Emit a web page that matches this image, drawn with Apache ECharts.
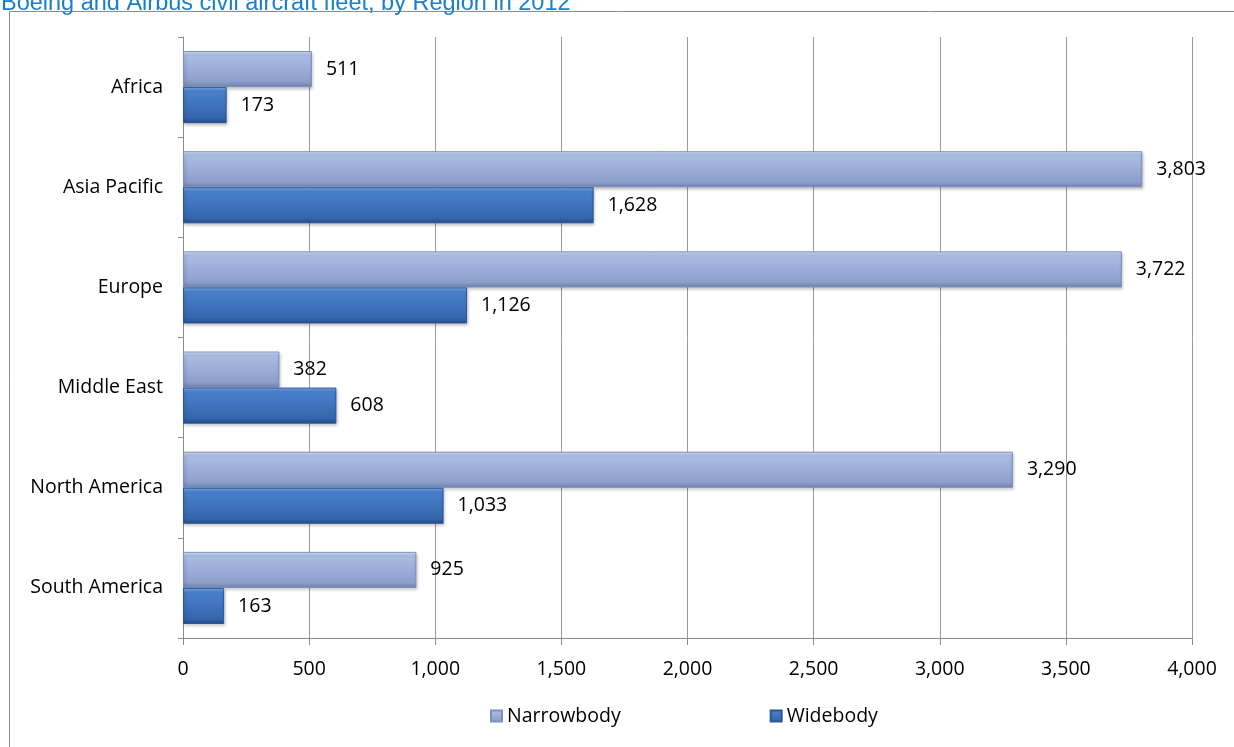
<!DOCTYPE html>
<html>
<head>
<meta charset="utf-8">
<script src="https://cdn.jsdelivr.net/npm/echarts@6/dist/echarts.min.js"></script>
<style>
html,body{margin:0;padding:0;background:#fff;}
#main{width:1234px;height:747px;}
</style>
</head>
<body>
<div id="main"></div>
<script>
var regions = ['Africa', 'Asia Pacific', 'Europe', 'Middle East', 'North America', 'South America'];
var narrowbody = [511, 3803, 3722, 382, 3290, 925];
var widebody = [173, 1628, 1126, 608, 1033, 163];
var seriesNames = ['Narrowbody', 'Widebody'];

var myChart = echarts.init(document.getElementById('main'));
var font = '"Open Sans", sans-serif';

// vertical bevel-like gradient
function grad(top, upper, lower, bottom){
	return new echarts.graphic.LinearGradient(0, 0, 0, 1, [
		{offset: 0, color: top},
		{offset: 0.12, color: upper},
		{offset: 0.85, color: lower},
		{offset: 1, color: bottom}
	]);
}

var option = {
	backgroundColor: '#fff',
	animation: false,
	title: {
		text: 'Boeing and Airbus civil aircraft fleet, by Region in 2012',
		left: -4,
		top: -13,
		textStyle: {color: '#1a7fc9', fontSize: 23.5, fontWeight: 'normal', fontFamily: 'Liberation Sans, Arial, sans-serif'}
	},
	graphic: [{
		type: 'rect',
		shape: {x: 9.5, y: 11.5, width: 1240, height: 760},
		style: {fill: 'none', stroke: '#8c8c8c', lineWidth: 1},
		silent: true
	}],
	legend: {
		data: seriesNames,
		bottom: 16,
		left: 485,
		itemGap: 149,
		itemWidth: 11,
		itemHeight: 11,
		icon: 'rect',
		textStyle: {fontSize: 19.5, color: '#000', fontFamily: font}
	},
	grid: {left: 183, right: 42, top: 37, bottom: 109},
	xAxis: {
		type: 'value',
		min: 0,
		max: 4000,
		interval: 500,
		axisLine: {show: true, lineStyle: {color: '#8c8c8c'}},
		axisTick: {show: true, length: 7, lineStyle: {color: '#8c8c8c'}},
		splitLine: {show: true, lineStyle: {color: '#9a9a9a'}},
		axisLabel: {
			fontSize: 19.5, color: '#000', fontFamily: font, margin: 21,
			formatter: function(v){ return v.toLocaleString('en-US'); }
		}
	},
	yAxis: {
		type: 'category',
		inverse: true,
		data: regions,
		axisLine: {show: true, lineStyle: {color: '#8c8c8c'}},
		axisTick: {show: true, length: 5, lineStyle: {color: '#8c8c8c'}},
		axisLabel: {fontSize: 19.5, color: '#000', fontFamily: font, margin: 20}
	},
	series: [{
		name: seriesNames[0],
		type: 'bar',
		data: narrowbody,
		barGap: '0%',
		barCategoryGap: '28%',
		itemStyle: {
			color: grad('#dbe8fb', '#a9bde4', '#8c9fcb', '#6e80ad'),
			borderColor: '#7d8fba',
			borderWidth: 1,
			shadowColor: 'rgba(0,0,0,0.25)',
			shadowBlur: 3,
			shadowOffsetX: 1,
			shadowOffsetY: 2
		},
		label: {
			show: true, position: 'right', distance: 14,
			fontSize: 19.5, color: '#000', fontFamily: font,
			formatter: function(p){ return p.value.toLocaleString('en-US'); }
		}
	}, {
		name: seriesNames[1],
		type: 'bar',
		data: widebody,
		itemStyle: {
			color: grad('#86b2ee', '#4a80cc', '#3566ad', '#234c88'),
			borderColor: '#2b5797',
			borderWidth: 1,
			shadowColor: 'rgba(0,0,0,0.25)',
			shadowBlur: 3,
			shadowOffsetX: 1,
			shadowOffsetY: 2
		},
		label: {
			show: true, position: 'right', distance: 14,
			fontSize: 19.5, color: '#000', fontFamily: font,
			formatter: function(p){ return p.value.toLocaleString('en-US'); }
		}
	}]
};
myChart.setOption(option);
</script>
</body>
</html>
